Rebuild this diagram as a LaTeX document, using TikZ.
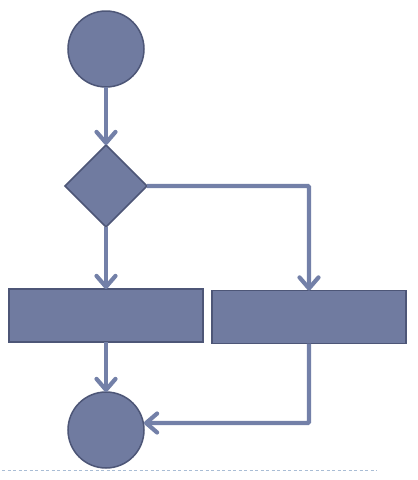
\documentclass[tikz,border=0pt]{standalone}
\usetikzlibrary{positioning,shapes.geometric,arrows.meta}
\definecolor{flowfill}{HTML}{707BA0}
\definecolor{flowedge}{HTML}{4D5677}
\definecolor{flowline}{HTML}{7380A8}
\definecolor{rulecol}{HTML}{A9BDD5}

\begin{document}
\begin{tikzpicture}[x=1pt,y=-1pt,>={Straight Barb[length=11pt,width=19pt,round]},line width=4.2pt,
    main node/.style={draw=flowedge,fill=flowfill,line width=1.5pt,inner sep=0pt,outer sep=0pt},
    round node/.style={main node,circle,minimum size=76pt},
    test node/.style={main node,diamond,aspect=1,minimum size=82pt},
    act node/.style={main node,rectangle,minimum width=194pt,minimum height=53pt}]

            \useasboundingbox (0,0) rectangle (418,480);

            \node[round node] (1) at (106,49) {};
            \node[test node] (2) [below=58pt of 1] {};
            \node[act node] (3) [below=62pt of 2] {};
            \node[act node] (4) [right=9pt of 3, yshift=-1.5pt] {};
            \node[round node] (5) [below=50pt of 3] {};

            \draw[->,flowline] (1) to (2);
            \draw[->,flowline] (2) to (3);
            \draw[->,flowline,rounded corners=1pt] (2.east) -| (4.north);
            \draw[->,flowline] (3) to (5);
            \draw[->,flowline,rounded corners=1pt] (4.south) |- ([yshift=7pt]5.east);

            \draw[rulecol,line width=1pt,dash pattern=on 3pt off 2.5pt] (2,470) -- (377,470);
        \end{tikzpicture}
\end{document}
